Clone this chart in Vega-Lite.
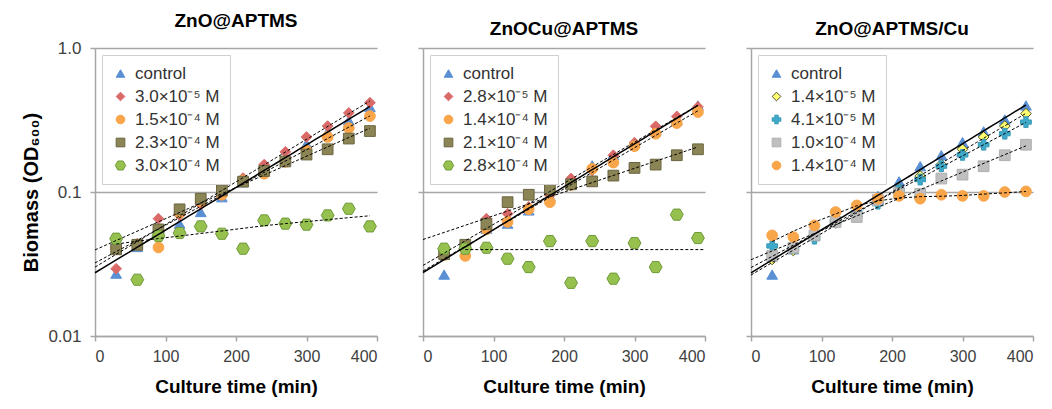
{
  "$schema": "https://vega.github.io/schema/vega-lite/v6.json",
  "background": "white",
  "padding": {"left": 21, "top": 12, "right": 5, "bottom": 5},
  "bounds": "flush",
  "spacing": 46,
  "config": {
    "font": "Liberation Sans",
    "view": {"stroke": null},
    "axis": {"domainColor": "#a6a6a6", "domainWidth": 1.5, "tickColor": "#a6a6a6", "tickWidth": 1.5, "tickSize": 5, "labelFont": "Liberation Sans", "labelFontSize": 16, "labelColor": "#404040", "titleFont": "Liberation Sans", "titleFontSize": 19, "titleFontWeight": "bold", "titleColor": "#000000", "grid": false},
    "axisY": {"gridColor": "#a6a6a6", "gridWidth": 1.5, "labelFontSize": 17, "titleFontSize": 20},
    "title": {"font": "Liberation Sans", "fontSize": 19, "fontWeight": "bold", "color": "#000000", "offset": 8},
    "legend": {"orient": "top-left", "offset": 7, "strokeColor": "#d0d0d0", "fillColor": "white", "padding": 10, "labelFont": "Liberation Sans", "labelFontSize": 17, "labelColor": "#333333", "symbolSize": 75, "rowPadding": 5, "labelOffset": 6, "symbolStrokeWidth": 1}
  },
  "data": {"values": [
    {"panel":"A","series":"control","time":30,"od":0.0271},{"panel":"A","series":"control","time":60,"od":0.0415},{"panel":"A","series":"control","time":90,"od":0.0562},{"panel":"A","series":"control","time":120,"od":0.0603},{"panel":"A","series":"control","time":150,"od":0.0726},{"panel":"A","series":"control","time":180,"od":0.092},{"panel":"A","series":"control","time":210,"od":0.117},{"panel":"A","series":"control","time":240,"od":0.151},{"panel":"A","series":"control","time":270,"od":0.175},{"panel":"A","series":"control","time":300,"od":0.216},{"panel":"A","series":"control","time":330,"od":0.261},{"panel":"A","series":"control","time":360,"od":0.314},{"panel":"A","series":"control","time":390,"od":0.389},
    {"panel":"A","series":"3.0×10⁻⁵ M","time":30,"od":0.0293},{"panel":"A","series":"3.0×10⁻⁵ M","time":60,"od":0.0438},{"panel":"A","series":"3.0×10⁻⁵ M","time":90,"od":0.0653},{"panel":"A","series":"3.0×10⁻⁵ M","time":120,"od":0.0688},{"panel":"A","series":"3.0×10⁻⁵ M","time":150,"od":0.082},{"panel":"A","series":"3.0×10⁻⁵ M","time":180,"od":0.097},{"panel":"A","series":"3.0×10⁻⁵ M","time":210,"od":0.125},{"panel":"A","series":"3.0×10⁻⁵ M","time":240,"od":0.155},{"panel":"A","series":"3.0×10⁻⁵ M","time":270,"od":0.19},{"panel":"A","series":"3.0×10⁻⁵ M","time":300,"od":0.241},{"panel":"A","series":"3.0×10⁻⁵ M","time":330,"od":0.287},{"panel":"A","series":"3.0×10⁻⁵ M","time":360,"od":0.354},{"panel":"A","series":"3.0×10⁻⁵ M","time":390,"od":0.417},
    {"panel":"A","series":"1.5×10⁻⁴ M","time":30,"od":0.0408},{"panel":"A","series":"1.5×10⁻⁴ M","time":60,"od":0.043},{"panel":"A","series":"1.5×10⁻⁴ M","time":90,"od":0.0412},{"panel":"A","series":"1.5×10⁻⁴ M","time":120,"od":0.0718},{"panel":"A","series":"1.5×10⁻⁴ M","time":150,"od":0.0866},{"panel":"A","series":"1.5×10⁻⁴ M","time":180,"od":0.0957},{"panel":"A","series":"1.5×10⁻⁴ M","time":210,"od":0.12},{"panel":"A","series":"1.5×10⁻⁴ M","time":240,"od":0.134},{"panel":"A","series":"1.5×10⁻⁴ M","time":270,"od":0.162},{"panel":"A","series":"1.5×10⁻⁴ M","time":300,"od":0.194},{"panel":"A","series":"1.5×10⁻⁴ M","time":330,"od":0.241},{"panel":"A","series":"1.5×10⁻⁴ M","time":360,"od":0.278},{"panel":"A","series":"1.5×10⁻⁴ M","time":390,"od":0.337},
    {"panel":"A","series":"2.3×10⁻⁴ M","time":30,"od":0.04},{"panel":"A","series":"2.3×10⁻⁴ M","time":60,"od":0.043},{"panel":"A","series":"2.3×10⁻⁴ M","time":90,"od":0.055},{"panel":"A","series":"2.3×10⁻⁴ M","time":120,"od":0.0758},{"panel":"A","series":"2.3×10⁻⁴ M","time":150,"od":0.0898},{"panel":"A","series":"2.3×10⁻⁴ M","time":180,"od":0.1026},{"panel":"A","series":"2.3×10⁻⁴ M","time":210,"od":0.118},{"panel":"A","series":"2.3×10⁻⁴ M","time":240,"od":0.14},{"panel":"A","series":"2.3×10⁻⁴ M","time":270,"od":0.163},{"panel":"A","series":"2.3×10⁻⁴ M","time":300,"od":0.182},{"panel":"A","series":"2.3×10⁻⁴ M","time":330,"od":0.198},{"panel":"A","series":"2.3×10⁻⁴ M","time":360,"od":0.235},{"panel":"A","series":"2.3×10⁻⁴ M","time":390,"od":0.265},
    {"panel":"A","series":"3.0×10⁻⁴ M","time":30,"od":0.0474},{"panel":"A","series":"3.0×10⁻⁴ M","time":60,"od":0.0246},{"panel":"A","series":"3.0×10⁻⁴ M","time":90,"od":0.0495},{"panel":"A","series":"3.0×10⁻⁴ M","time":120,"od":0.0519},{"panel":"A","series":"3.0×10⁻⁴ M","time":150,"od":0.0577},{"panel":"A","series":"3.0×10⁻⁴ M","time":180,"od":0.0513},{"panel":"A","series":"3.0×10⁻⁴ M","time":210,"od":0.0404},{"panel":"A","series":"3.0×10⁻⁴ M","time":240,"od":0.0635},{"panel":"A","series":"3.0×10⁻⁴ M","time":270,"od":0.0603},{"panel":"A","series":"3.0×10⁻⁴ M","time":300,"od":0.0593},{"panel":"A","series":"3.0×10⁻⁴ M","time":330,"od":0.0688},{"panel":"A","series":"3.0×10⁻⁴ M","time":360,"od":0.0765},{"panel":"A","series":"3.0×10⁻⁴ M","time":390,"od":0.0577},
    {"panel":"B","series":"control","time":30,"od":0.0267},{"panel":"B","series":"control","time":60,"od":0.0426},{"panel":"B","series":"control","time":90,"od":0.0556},{"panel":"B","series":"control","time":120,"od":0.0603},{"panel":"B","series":"control","time":150,"od":0.0745},{"panel":"B","series":"control","time":180,"od":0.0938},{"panel":"B","series":"control","time":210,"od":0.1155},{"panel":"B","series":"control","time":240,"od":0.153},{"panel":"B","series":"control","time":270,"od":0.181},{"panel":"B","series":"control","time":300,"od":0.22},{"panel":"B","series":"control","time":330,"od":0.264},{"panel":"B","series":"control","time":360,"od":0.314},{"panel":"B","series":"control","time":390,"od":0.399},
    {"panel":"B","series":"2.8×10⁻⁵ M","time":30,"od":0.0363},{"panel":"B","series":"2.8×10⁻⁵ M","time":60,"od":0.043},{"panel":"B","series":"2.8×10⁻⁵ M","time":90,"od":0.0653},{"panel":"B","series":"2.8×10⁻⁵ M","time":120,"od":0.0707},{"panel":"B","series":"2.8×10⁻⁵ M","time":150,"od":0.0787},{"panel":"B","series":"2.8×10⁻⁵ M","time":180,"od":0.095},{"panel":"B","series":"2.8×10⁻⁵ M","time":210,"od":0.124},{"panel":"B","series":"2.8×10⁻⁵ M","time":240,"od":0.141},{"panel":"B","series":"2.8×10⁻⁵ M","time":270,"od":0.18},{"panel":"B","series":"2.8×10⁻⁵ M","time":300,"od":0.22},{"panel":"B","series":"2.8×10⁻⁵ M","time":330,"od":0.286},{"panel":"B","series":"2.8×10⁻⁵ M","time":360,"od":0.335},{"panel":"B","series":"2.8×10⁻⁵ M","time":390,"od":0.39},
    {"panel":"B","series":"1.4×10⁻⁴ M","time":30,"od":0.0365},{"panel":"B","series":"1.4×10⁻⁴ M","time":60,"od":0.036},{"panel":"B","series":"1.4×10⁻⁴ M","time":90,"od":0.055},{"panel":"B","series":"1.4×10⁻⁴ M","time":120,"od":0.062},{"panel":"B","series":"1.4×10⁻⁴ M","time":150,"od":0.076},{"panel":"B","series":"1.4×10⁻⁴ M","time":180,"od":0.085},{"panel":"B","series":"1.4×10⁻⁴ M","time":210,"od":0.112},{"panel":"B","series":"1.4×10⁻⁴ M","time":240,"od":0.145},{"panel":"B","series":"1.4×10⁻⁴ M","time":270,"od":0.16},{"panel":"B","series":"1.4×10⁻⁴ M","time":300,"od":0.208},{"panel":"B","series":"1.4×10⁻⁴ M","time":330,"od":0.254},{"panel":"B","series":"1.4×10⁻⁴ M","time":360,"od":0.301},{"panel":"B","series":"1.4×10⁻⁴ M","time":390,"od":0.359},
    {"panel":"B","series":"2.1×10⁻⁴ M","time":30,"od":0.037},{"panel":"B","series":"2.1×10⁻⁴ M","time":60,"od":0.043},{"panel":"B","series":"2.1×10⁻⁴ M","time":90,"od":0.06},{"panel":"B","series":"2.1×10⁻⁴ M","time":120,"od":0.085},{"panel":"B","series":"2.1×10⁻⁴ M","time":150,"od":0.0957},{"panel":"B","series":"2.1×10⁻⁴ M","time":180,"od":0.1042},{"panel":"B","series":"2.1×10⁻⁴ M","time":210,"od":0.113},{"panel":"B","series":"2.1×10⁻⁴ M","time":240,"od":0.1185},{"panel":"B","series":"2.1×10⁻⁴ M","time":270,"od":0.13},{"panel":"B","series":"2.1×10⁻⁴ M","time":300,"od":0.147},{"panel":"B","series":"2.1×10⁻⁴ M","time":330,"od":0.155},{"panel":"B","series":"2.1×10⁻⁴ M","time":360,"od":0.18},{"panel":"B","series":"2.1×10⁻⁴ M","time":390,"od":0.198},
    {"panel":"B","series":"2.8×10⁻⁴ M","time":30,"od":0.0404},{"panel":"B","series":"2.8×10⁻⁴ M","time":60,"od":0.0404},{"panel":"B","series":"2.8×10⁻⁴ M","time":90,"od":0.041},{"panel":"B","series":"2.8×10⁻⁴ M","time":120,"od":0.0344},{"panel":"B","series":"2.8×10⁻⁴ M","time":150,"od":0.0301},{"panel":"B","series":"2.8×10⁻⁴ M","time":180,"od":0.0456},{"panel":"B","series":"2.8×10⁻⁴ M","time":210,"od":0.0234},{"panel":"B","series":"2.8×10⁻⁴ M","time":240,"od":0.0456},{"panel":"B","series":"2.8×10⁻⁴ M","time":270,"od":0.025},{"panel":"B","series":"2.8×10⁻⁴ M","time":300,"od":0.0442},{"panel":"B","series":"2.8×10⁻⁴ M","time":330,"od":0.0301},{"panel":"B","series":"2.8×10⁻⁴ M","time":360,"od":0.0696},{"panel":"B","series":"2.8×10⁻⁴ M","time":390,"od":0.0479},
    {"panel":"C","series":"control","time":30,"od":0.0267},{"panel":"C","series":"control","time":60,"od":0.04},{"panel":"C","series":"control","time":90,"od":0.0556},{"panel":"C","series":"control","time":120,"od":0.0635},{"panel":"C","series":"control","time":150,"od":0.073},{"panel":"C","series":"control","time":180,"od":0.0938},{"panel":"C","series":"control","time":210,"od":0.1185},{"panel":"C","series":"control","time":240,"od":0.151},{"panel":"C","series":"control","time":270,"od":0.18},{"panel":"C","series":"control","time":300,"od":0.222},{"panel":"C","series":"control","time":330,"od":0.264},{"panel":"C","series":"control","time":360,"od":0.319},{"panel":"C","series":"control","time":390,"od":0.399},
    {"panel":"C","series":"1.4×10⁻⁵ M","time":30,"od":0.034},{"panel":"C","series":"1.4×10⁻⁵ M","time":60,"od":0.0393},{"panel":"C","series":"1.4×10⁻⁵ M","time":90,"od":0.049},{"panel":"C","series":"1.4×10⁻⁵ M","time":120,"od":0.061},{"panel":"C","series":"1.4×10⁻⁵ M","time":150,"od":0.0677},{"panel":"C","series":"1.4×10⁻⁵ M","time":180,"od":0.086},{"panel":"C","series":"1.4×10⁻⁵ M","time":210,"od":0.105},{"panel":"C","series":"1.4×10⁻⁵ M","time":240,"od":0.129},{"panel":"C","series":"1.4×10⁻⁵ M","time":270,"od":0.155},{"panel":"C","series":"1.4×10⁻⁵ M","time":300,"od":0.198},{"panel":"C","series":"1.4×10⁻⁵ M","time":330,"od":0.241},{"panel":"C","series":"1.4×10⁻⁵ M","time":360,"od":0.287},{"panel":"C","series":"1.4×10⁻⁵ M","time":390,"od":0.35},
    {"panel":"C","series":"4.1×10⁻⁵ M","time":30,"od":0.0422},{"panel":"C","series":"4.1×10⁻⁵ M","time":60,"od":0.041},{"panel":"C","series":"4.1×10⁻⁵ M","time":90,"od":0.0474},{"panel":"C","series":"4.1×10⁻⁵ M","time":120,"od":0.0625},{"panel":"C","series":"4.1×10⁻⁵ M","time":150,"od":0.0718},{"panel":"C","series":"4.1×10⁻⁵ M","time":180,"od":0.083},{"panel":"C","series":"4.1×10⁻⁵ M","time":210,"od":0.1026},{"panel":"C","series":"4.1×10⁻⁵ M","time":240,"od":0.122},{"panel":"C","series":"4.1×10⁻⁵ M","time":270,"od":0.151},{"panel":"C","series":"4.1×10⁻⁵ M","time":300,"od":0.181},{"panel":"C","series":"4.1×10⁻⁵ M","time":330,"od":0.213},{"panel":"C","series":"4.1×10⁻⁵ M","time":360,"od":0.254},{"panel":"C","series":"4.1×10⁻⁵ M","time":390,"od":0.306},
    {"panel":"C","series":"1.0×10⁻⁴ M","time":30,"od":0.036},{"panel":"C","series":"1.0×10⁻⁴ M","time":60,"od":0.041},{"panel":"C","series":"1.0×10⁻⁴ M","time":90,"od":0.05},{"panel":"C","series":"1.0×10⁻⁴ M","time":120,"od":0.062},{"panel":"C","series":"1.0×10⁻⁴ M","time":150,"od":0.067},{"panel":"C","series":"1.0×10⁻⁴ M","time":180,"od":0.088},{"panel":"C","series":"1.0×10⁻⁴ M","time":210,"od":0.098},{"panel":"C","series":"1.0×10⁻⁴ M","time":240,"od":0.097},{"panel":"C","series":"1.0×10⁻⁴ M","time":270,"od":0.124},{"panel":"C","series":"1.0×10⁻⁴ M","time":300,"od":0.132},{"panel":"C","series":"1.0×10⁻⁴ M","time":330,"od":0.151},{"panel":"C","series":"1.0×10⁻⁴ M","time":360,"od":0.18},{"panel":"C","series":"1.0×10⁻⁴ M","time":390,"od":0.213},
    {"panel":"C","series":"1.4×10⁻⁴ M","time":30,"od":0.05},{"panel":"C","series":"1.4×10⁻⁴ M","time":60,"od":0.0487},{"panel":"C","series":"1.4×10⁻⁴ M","time":90,"od":0.0586},{"panel":"C","series":"1.4×10⁻⁴ M","time":120,"od":0.0726},{"panel":"C","series":"1.4×10⁻⁴ M","time":150,"od":0.0807},{"panel":"C","series":"1.4×10⁻⁴ M","time":180,"od":0.09},{"panel":"C","series":"1.4×10⁻⁴ M","time":210,"od":0.094},{"panel":"C","series":"1.4×10⁻⁴ M","time":240,"od":0.0898},{"panel":"C","series":"1.4×10⁻⁴ M","time":270,"od":0.0957},{"panel":"C","series":"1.4×10⁻⁴ M","time":300,"od":0.094},{"panel":"C","series":"1.4×10⁻⁴ M","time":330,"od":0.094},{"panel":"C","series":"1.4×10⁻⁴ M","time":360,"od":0.1},{"panel":"C","series":"1.4×10⁻⁴ M","time":390,"od":0.101}
  ]},
  "resolve": {"scale": {"fill": "independent", "stroke": "independent", "shape": "independent"}, "legend": {"fill": "independent", "stroke": "independent", "shape": "independent"}},
  "hconcat": [
    {
      "width": 282, "height": 288,
      "title": "ZnO@APTMS",
      "transform": [{"filter": "datum.panel === 'A'"}],
      "layer": [
        {
          "mark": {"type": "point", "filled": true, "size": 115, "strokeWidth": 1, "opacity": 1},
          "encoding": {
            "x": {"field": "time", "type": "quantitative", "scale": {"domain": [0, 400]}, "axis": {"values": [0, 100, 200, 300, 400], "title": "Culture time (min)", "labelPadding": 7, "titlePadding": 13}},
            "y": {"field": "od", "type": "quantitative", "scale": {"type": "log", "domain": [0.01, 1]}, "axis": {"values": [0.01, 0.1, 1], "grid": true, "labelExpr": "datum.value >= 1 ? '1.0' : (datum.value >= 0.1 ? '0.1' : '0.01')", "title": "Biomass (OD₆₀₀)", "labelPadding": 9, "titlePadding": 6}},
            "fill": {"field": "series", "type": "nominal", "title": null, "scale": {"domain": ["control", "3.0×10⁻⁵ M", "1.5×10⁻⁴ M", "2.3×10⁻⁴ M", "3.0×10⁻⁴ M"], "range": ["#5a8fd4", "#d96a68", "#f9a54a", "#8b8454", "#96c14f"]}},
            "stroke": {"field": "series", "type": "nominal", "title": null, "scale": {"domain": ["control", "3.0×10⁻⁵ M", "1.5×10⁻⁴ M", "2.3×10⁻⁴ M", "3.0×10⁻⁴ M"], "range": ["#5a8fd4", "#d96a68", "#f9a54a", "#6a6440", "#6f9a38"]}},
            "shape": {"field": "series", "type": "nominal", "title": null, "scale": {"domain": ["control", "3.0×10⁻⁵ M", "1.5×10⁻⁴ M", "2.3×10⁻⁴ M", "3.0×10⁻⁴ M"], "range": ["triangle-up", "diamond", "circle", "square", "M-1.2,0L-0.6,-1.04L0.6,-1.04L1.2,0L0.6,1.04L-0.6,1.04Z"]}}
          }
        },
        {
          "transform": [{"filter": "datum.series === 'control'"}, {"regression": "od", "on": "time", "method": "exp", "extent": [0, 390]}],
          "mark": {"type": "line", "color": "#000000", "strokeWidth": 1.5},
          "encoding": {"x": {"field": "time", "type": "quantitative"}, "y": {"field": "od", "type": "quantitative"}}
        },
        {
          "transform": [{"filter": "datum.series !== 'control' && datum.series !== '3.0×10⁻⁴ M'"}, {"regression": "od", "on": "time", "method": "exp", "groupby": ["series"], "extent": [0, 390]}],
          "mark": {"type": "line", "color": "#000000", "strokeWidth": 1, "strokeDash": [3, 2]},
          "encoding": {"x": {"field": "time", "type": "quantitative"}, "y": {"field": "od", "type": "quantitative"}, "detail": {"field": "series"}}
        },
        {
          "transform": [{"filter": "datum.series === '3.0×10⁻⁴ M'"}, {"loess": "od", "on": "time", "bandwidth": 1}],
          "mark": {"type": "line", "color": "#000000", "strokeWidth": 1, "strokeDash": [3, 2]},
          "encoding": {"x": {"field": "time", "type": "quantitative"}, "y": {"field": "od", "type": "quantitative"}}
        }
      ]
    },
    {
      "width": 282, "height": 288,
      "title": "ZnOCu@APTMS",
      "transform": [{"filter": "datum.panel === 'B'"}],
      "layer": [
        {
          "mark": {"type": "point", "filled": true, "size": 115, "strokeWidth": 1, "opacity": 1},
          "encoding": {
            "x": {"field": "time", "type": "quantitative", "scale": {"domain": [0, 400]}, "axis": {"values": [0, 100, 200, 300, 400], "title": "Culture time (min)", "labelPadding": 7, "titlePadding": 13}},
            "y": {"field": "od", "type": "quantitative", "scale": {"type": "log", "domain": [0.01, 1]}, "axis": {"values": [0.01, 0.1, 1], "grid": true, "labels": false, "title": null}},
            "fill": {"field": "series", "type": "nominal", "title": null, "scale": {"domain": ["control", "2.8×10⁻⁵ M", "1.4×10⁻⁴ M", "2.1×10⁻⁴ M", "2.8×10⁻⁴ M"], "range": ["#5a8fd4", "#d96a68", "#f9a54a", "#8b8454", "#96c14f"]}},
            "stroke": {"field": "series", "type": "nominal", "title": null, "scale": {"domain": ["control", "2.8×10⁻⁵ M", "1.4×10⁻⁴ M", "2.1×10⁻⁴ M", "2.8×10⁻⁴ M"], "range": ["#5a8fd4", "#d96a68", "#f9a54a", "#6a6440", "#6f9a38"]}},
            "shape": {"field": "series", "type": "nominal", "title": null, "scale": {"domain": ["control", "2.8×10⁻⁵ M", "1.4×10⁻⁴ M", "2.1×10⁻⁴ M", "2.8×10⁻⁴ M"], "range": ["triangle-up", "diamond", "circle", "square", "M-1.2,0L-0.6,-1.04L0.6,-1.04L1.2,0L0.6,1.04L-0.6,1.04Z"]}}
          }
        },
        {
          "transform": [{"filter": "datum.series === 'control'"}, {"regression": "od", "on": "time", "method": "exp", "extent": [0, 390]}],
          "mark": {"type": "line", "color": "#000000", "strokeWidth": 1.5},
          "encoding": {"x": {"field": "time", "type": "quantitative"}, "y": {"field": "od", "type": "quantitative"}}
        },
        {
          "transform": [{"filter": "datum.series !== 'control' && datum.series !== '2.8×10⁻⁴ M'"}, {"regression": "od", "on": "time", "method": "exp", "groupby": ["series"], "extent": [0, 390]}],
          "mark": {"type": "line", "color": "#000000", "strokeWidth": 1, "strokeDash": [3, 2]},
          "encoding": {"x": {"field": "time", "type": "quantitative"}, "y": {"field": "od", "type": "quantitative"}, "detail": {"field": "series"}}
        },
        {
          "transform": [{"filter": "datum.series === '2.8×10⁻⁴ M'"}, {"regression": "od", "on": "time", "method": "poly", "order": 0, "extent": [60, 400]}],
          "mark": {"type": "line", "color": "#000000", "strokeWidth": 1, "strokeDash": [3, 2]},
          "encoding": {"x": {"field": "time", "type": "quantitative"}, "y": {"field": "od", "type": "quantitative"}}
        }
      ]
    },
    {
      "width": 282, "height": 288,
      "title": "ZnO@APTMS/Cu",
      "transform": [{"filter": "datum.panel === 'C'"}],
      "layer": [
        {
          "mark": {"type": "point", "filled": true, "size": 115, "strokeWidth": 1, "opacity": 1},
          "encoding": {
            "x": {"field": "time", "type": "quantitative", "scale": {"domain": [0, 400]}, "axis": {"values": [0, 100, 200, 300, 400], "title": "Culture time (min)", "labelPadding": 7, "titlePadding": 13}},
            "y": {"field": "od", "type": "quantitative", "scale": {"type": "log", "domain": [0.01, 1]}, "axis": {"values": [0.01, 0.1, 1], "grid": true, "labels": false, "title": null}},
            "fill": {"field": "series", "type": "nominal", "title": null, "scale": {"domain": ["control", "1.4×10⁻⁵ M", "4.1×10⁻⁵ M", "1.0×10⁻⁴ M", "1.4×10⁻⁴ M"], "range": ["#5a8fd4", "#ffff70", "#3fa9c9", "#bfbfbf", "#f9a54a"]}},
            "stroke": {"field": "series", "type": "nominal", "title": null, "scale": {"domain": ["control", "1.4×10⁻⁵ M", "4.1×10⁻⁵ M", "1.0×10⁻⁴ M", "1.4×10⁻⁴ M"], "range": ["#5a8fd4", "#55552a", "#3a9ab8", "#b0b0b0", "#f9a54a"]}},
            "shape": {"field": "series", "type": "nominal", "title": null, "scale": {"domain": ["control", "1.4×10⁻⁵ M", "4.1×10⁻⁵ M", "1.0×10⁻⁴ M", "1.4×10⁻⁴ M"], "range": ["triangle-up", "diamond", "cross", "square", "circle"]}}
          }
        },
        {
          "transform": [{"filter": "datum.series === 'control'"}, {"regression": "od", "on": "time", "method": "exp", "extent": [0, 390]}],
          "mark": {"type": "line", "color": "#000000", "strokeWidth": 1.5},
          "encoding": {"x": {"field": "time", "type": "quantitative"}, "y": {"field": "od", "type": "quantitative"}}
        },
        {
          "transform": [{"filter": "datum.series !== 'control' && datum.series !== '1.4×10⁻⁴ M'"}, {"regression": "od", "on": "time", "method": "exp", "groupby": ["series"], "extent": [0, 390]}],
          "mark": {"type": "line", "color": "#000000", "strokeWidth": 1, "strokeDash": [3, 2]},
          "encoding": {"x": {"field": "time", "type": "quantitative"}, "y": {"field": "od", "type": "quantitative"}, "detail": {"field": "series"}}
        },
        {
          "transform": [{"filter": "datum.series === '1.4×10⁻⁴ M'"}, {"loess": "od", "on": "time", "bandwidth": 0.6}],
          "mark": {"type": "line", "color": "#000000", "strokeWidth": 1, "strokeDash": [3, 2]},
          "encoding": {"x": {"field": "time", "type": "quantitative"}, "y": {"field": "od", "type": "quantitative"}}
        }
      ]
    }
  ]
}
